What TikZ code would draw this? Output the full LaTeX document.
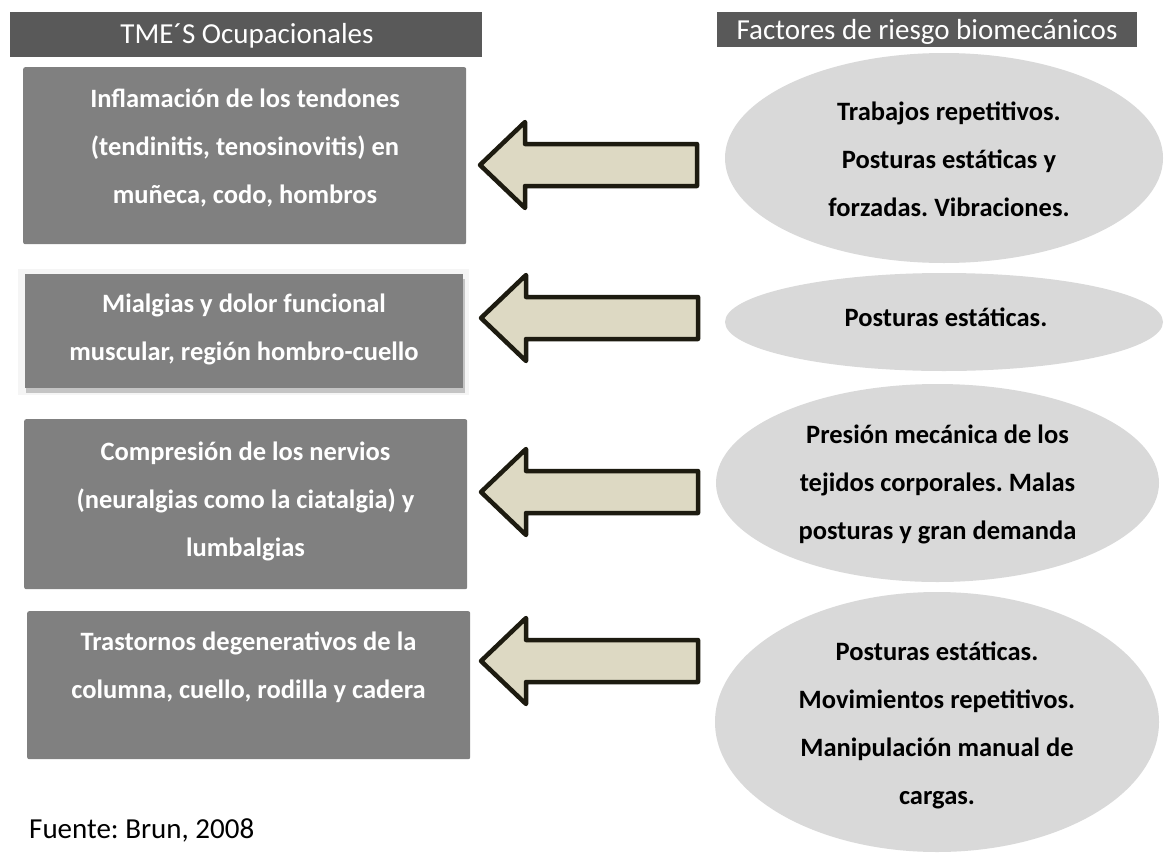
\documentclass[tikz,border=0pt]{standalone}
\usepackage{fontspec}
\setmainfont{Carlito}
\usetikzlibrary{shapes.geometric}
\frenchspacing

\definecolor{hdrgray}{HTML}{595959}
\definecolor{boxgray}{HTML}{808080}
\definecolor{ovalgray}{HTML}{D9D9D9}
\definecolor{arrowfill}{HTML}{DDD9C3}
\definecolor{arrowline}{HTML}{1D1B10}
\definecolor{shadowlight}{HTML}{F5F5F5}
\definecolor{shadowdark}{HTML}{C4C4C4}

% stacked lines whose baseline is the first line
\newcommand\stacklines[1]{\begin{tabular}[t]{@{}c@{}}#1\end{tabular}}

\tikzset{
  header/.style={fill=hdrgray, draw=none, inner sep=0, anchor=north west},
  headtext/.style={text=white, inner sep=0, anchor=base, font=\fontsize{29}{35}\selectfont},
  tmebox/.style={fill=boxgray, draw=none, rounded corners=2pt, inner sep=0, anchor=north west},
  tmetext/.style={text=white, inner sep=0, anchor=base, font=\fontsize{26.5}{48}\selectfont\bfseries},
  oval/.style={ellipse, fill=ovalgray, draw=none, inner sep=0},
  ovaltext/.style={text=black, inner sep=0, anchor=base, font=\fontsize{26.5}{48}\selectfont\bfseries},
  blockarrow/.style={fill=arrowfill, draw=arrowline, line width=4.5pt, line join=round},
  leftarrow/.pic={
    \draw[blockarrow] (0,0) -- (45,-43) -- (45,-21) -- (217,-21) -- (217,21)
      -- (45,21) -- (45,43) -- cycle;
  }
}

\begin{document}
\begin{tikzpicture}[x=1pt, y=-1pt]
  \useasboundingbox[fill=white] (0,0) rectangle (1164,854);

  % column headers
  \node[header, minimum width=472, minimum height=45] (h1) at (10,12) {};
  \node[headtext] (h1t) at (247,43) {TME´S Ocupacionales};
  \node[header, minimum width=420, minimum height=35] (h2) at (717,12) {};
  \node[headtext] (h2t) at (927,39) {Factores de riesgo biomecánicos};

  % disorders (left column)
  \node[tmebox, minimum width=443, minimum height=177] (b1) at (23,67) {};
  \node[tmetext] (b1t) at (245,107)
    {\stacklines{Inflamación de los tendones\\(tendinitis, tenosinovitis) en\\muñeca, codo, hombros}};

  % second box carries a soft shadow
  \fill[shadowlight] (18,269) rectangle (469,395);
  \fill[shadowdark] (26,279) rectangle (465,393);
  \node[tmebox, rounded corners=0pt, minimum width=438, minimum height=114] (b2) at (25,274) {};
  \node[tmetext] (b2t) at (244,312)
    {\stacklines{Mialgias y dolor funcional\\muscular, región hombro-cuello}};

  \node[tmebox, minimum width=443, minimum height=170] (b3) at (24,419) {};
  \node[tmetext] (b3t) at (245.5,460)
    {\stacklines{Compresión de los nervios\\(neuralgias como la ciatalgia) y\\lumbalgias}};

  \node[tmebox, minimum width=443, minimum height=148] (b4) at (27,611) {};
  \node[tmetext] (b4t) at (248.5,650)
    {\stacklines{Trastornos degenerativos de la\\columna, cuello, rodilla y cadera}};

  % risk factors (right column)
  \node[oval, minimum width=438, minimum height=210] (e1) at (944,158) {};
  \node[ovaltext] (e1t) at (949,120)
    {\stacklines{Trabajos repetitivos.\\Posturas estáticas y\\forzadas. Vibraciones.}};

  \node[oval, minimum width=438, minimum height=98] (e2) at (944,322) {};
  \node[ovaltext] (e2t) at (946,326) {Posturas estáticas.};

  \node[oval, minimum width=443, minimum height=198] (e3) at (937.5,483) {};
  \node[ovaltext] (e3t) at (937.5,443)
    {\stacklines{Presión mecánica de los\\tejidos corporales. Malas\\posturas y gran demanda}};

  \node[oval, minimum width=444, minimum height=260] (e4) at (937,722) {};
  \node[ovaltext] (e4t) at (937,660)
    {\stacklines{Posturas estáticas.\\Movimientos repetitivos.\\Manipulación manual de\\cargas.}};

  % block arrows from each risk factor to its disorder
  \pic at (480,165) {leftarrow};
  \pic at (481,318) {leftarrow};
  \pic at (481,492) {leftarrow};
  \pic at (481,661) {leftarrow};

  % source line
  \node[anchor=base west, inner sep=0, font=\fontsize{29}{35}\selectfont] (src) at (29,838)
    {Fuente: Brun, 2008};
\end{tikzpicture}
\end{document}
